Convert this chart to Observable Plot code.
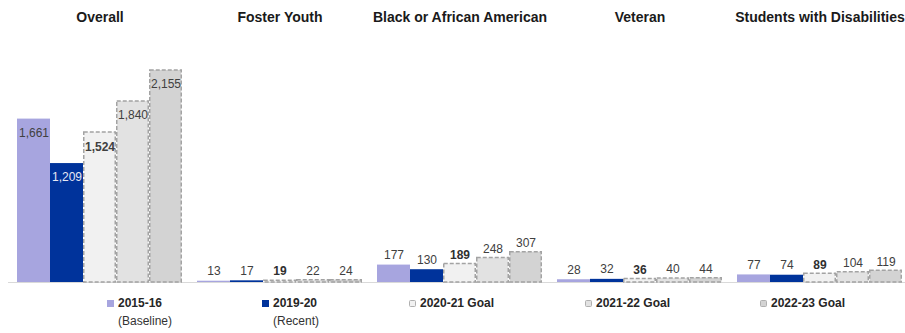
<!DOCTYPE html>
<html>
<head>
<meta charset="utf-8">
<script src="https://cdn.jsdelivr.net/npm/d3@7"></script>
<script src="https://cdn.jsdelivr.net/npm/@observablehq/plot@0.6"></script>
<style>
  body { margin: 0; background: #fff; font-family: "Liberation Sans", Arial, sans-serif; }
  #wrap { position: relative; width: 905px; height: 333px; }
  .legend-item { position: absolute; top: 296px; display: flex; align-items: flex-start; color: #262626; }
  .legend-item .sw { width: 7px; height: 7px; margin-top: 4px; margin-right: 4px; box-sizing: border-box; }
  .legend-item .l1 { font-size: 12px; font-weight: bold; line-height: 15px; }
  .legend-item .l2 { font-size: 12px; line-height: 15px; margin-top: 3px; color: #333; }
</style>
</head>
<body>
<div id="wrap"></div>
<script>
// Student groups and reporting years
const groups = ["Overall", "Foster Youth", "Black or African American", "Veteran", "Students with Disabilities"];
const seriesNames = ["2015-16 (Baseline)", "2019-20 (Recent)", "2020-21 Goal", "2021-22 Goal", "2022-23 Goal"];
const legendLine1 = ["2015-16", "2019-20", "2020-21 Goal", "2021-22 Goal", "2022-23 Goal"];
const legendLine2 = ["(Baseline)", "(Recent)", "", "", ""];

// Counts per group, one array per year
const baseline1516 = [1661, 13, 177, 28, 77];
const recent1920 = [1209, 17, 130, 32, 74];
const goal2021 = [1524, 19, 189, 36, 89];
const goal2122 = [1840, 22, 248, 40, 104];
const goal2223 = [2155, 24, 307, 44, 119];

const seriesColors = ["#a7a5df", "#00339b", "#f1f1f1", "#e2e2e2", "#d3d3d3"];
const goalSeries = seriesNames.slice(2);

const valuesBySeries = [baseline1516, recent1920, goal2021, goal2122, goal2223];
const rows = [];
groups.forEach((g, gi) => {
  seriesNames.forEach((s, si) => {
    rows.push({group: g, series: s, value: valuesBySeries[si][gi]});
  });
});

const fmt = d3.format(",");
const isGoal = d => goalSeries.includes(d.series);
const inside = d => d.group === "Overall";

function labels(filter, opts) {
  return Plot.text(rows.filter(filter), {
    fx: "group", x: "series", y: "value",
    text: d => fmt(d.value),
    fontSize: 12,
    fill: "#404040",
    ...opts
  });
}

const chart = Plot.plot({
  width: 905,
  height: 290,
  marginLeft: 16,
  marginRight: 2,
  marginTop: 70,
  marginBottom: 8,
  style: {fontFamily: "'Liberation Sans', Arial, sans-serif", background: "#fff"},
  fx: {domain: groups, paddingInner: 0.086, paddingOuter: 0, axis: null},
  x: {domain: seriesNames, padding: 0, axis: null},
  y: {domain: [0, 2155], axis: null},
  color: {domain: seriesNames, range: seriesColors},
  marks: [
    Plot.ruleY([0], {stroke: "#d9d9d9", strokeWidth: 1.2, insetLeft: -9, insetRight: -9}),
    Plot.barY(rows.filter(d => !isGoal(d)), {
      fx: "group", x: "series", y: "value", fill: "series", insetLeft: 0, insetRight: 0
    }),
    Plot.barY(rows.filter(isGoal), {
      fx: "group", x: "series", y: "value", fill: "series",
      stroke: "#a3a3a3", strokeWidth: 1.5, strokeDasharray: "4,2",
      insetLeft: 0.75, insetRight: 0.75
    }),
    // values printed inside the tall Overall bars
    labels(d => inside(d) && d.series === seriesNames[0], {dy: 14}),
    labels(d => inside(d) && d.series === seriesNames[1], {dy: 14, fill: "#e6e8f4"}),
    labels(d => inside(d) && d.series === seriesNames[2], {dy: 15, fontWeight: "bold"}),
    labels(d => inside(d) && (d.series === seriesNames[3] || d.series === seriesNames[4]), {dy: 14}),
    // values printed above the short bars
    labels(d => !inside(d) && !isGoal(d), {dy: -10}),
    labels(d => !inside(d) && d.series === seriesNames[2], {dy: -9, fontWeight: "bold", fill: "#303030"}),
    labels(d => !inside(d) && isGoal(d) && d.series !== seriesNames[2], {dy: -9}),
    // group titles
    Plot.text(groups, {
      fx: d => d, text: d => d, frameAnchor: "top", dy: -58,
      fontSize: 14, fontWeight: "bold", fill: "#1a1a1a"
    })
  ]
});

const wrap = document.getElementById("wrap");
wrap.appendChild(chart);

// Legend beneath the chart
const legendX = [107, 262, 409, 585, 760];
seriesNames.forEach((s, i) => {
  const item = document.createElement("div");
  item.className = "legend-item";
  item.style.left = legendX[i] + "px";
  const sw = document.createElement("div");
  sw.className = "sw";
  sw.style.background = seriesColors[i];
  if (i >= 2) { sw.style.border = "1px solid #b0b0b0"; sw.style.borderRadius = "1.5px"; }
  const txt = document.createElement("div");
  const l1 = document.createElement("div");
  l1.className = "l1";
  l1.textContent = legendLine1[i];
  txt.appendChild(l1);
  if (legendLine2[i]) {
    const l2 = document.createElement("div");
    l2.className = "l2";
    l2.textContent = legendLine2[i];
    txt.appendChild(l2);
  }
  item.appendChild(sw);
  item.appendChild(txt);
  wrap.appendChild(item);
});
</script>
</body>
</html>
